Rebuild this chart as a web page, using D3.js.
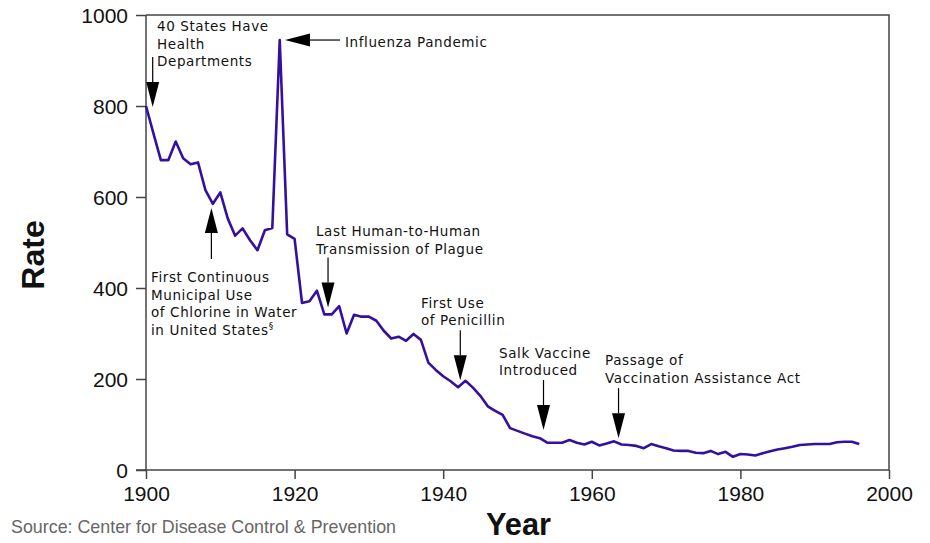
<!DOCTYPE html>
<html>
<head>
<meta charset="utf-8">
<script src="https://cdn.jsdelivr.net/npm/d3@7"></script>
<style>
  body { margin: 0; background: #fff; }
  svg { display: block; font-family: "Liberation Sans", Arial, sans-serif; }
  .tick text { font-size: 21px; fill: #111; }
  .note { font-family: "DejaVu Sans", sans-serif; font-size: 13.5px; letter-spacing: 0.6px; fill: #111; }
</style>
</head>
<body>
<div id="chart"></div>
<script>
// crude death rate, infectious diseases, per 100,000
var years = d3.range(1900, 1997)
var rates = [
  800, 740, 681, 681, 722, 685, 672, 676, 615, 585,
  610, 553, 515, 531, 505, 483, 527, 532, 945, 518,
  508, 367, 371, 394, 342, 342, 360, 300, 341, 337,
  337, 328, 306, 289, 293, 284, 299, 286, 236, 220,
  206, 195, 182, 196, 181, 163, 140, 130, 121, 92,
  86, 80, 74, 70, 60, 60, 60, 66, 60, 56,
  62, 54, 58, 63, 56, 55, 53, 48, 57, 52,
  48, 43, 42, 42, 38, 37, 42, 35, 40, 29,
  35, 34, 32, 37, 41, 45, 48, 51, 55, 56,
  57, 57, 57, 61, 62, 62, 57
]
var xTicks = [1900, 1920, 1940, 1960, 1980, 2000]
var yTicks = [0, 200, 400, 600, 800, 1000]

// annotations: arrow tip in data units, tail length in px, direction
var notes = [
  {lines: ['40 States Have', 'Health', 'Departments'], tx: 157, ty: 31, year: 1900.9, rate: 798, dir: 'down', len: 50},
  {lines: ['Influenza Pandemic'], tx: 345, ty: 47, year: 1918.7, rate: 945, dir: 'left', len: 55},
  {lines: ['First Continuous', 'Municipal Use', 'of Chlorine in Water', 'in United States'], sup: '§', tx: 151, ty: 282, year: 1908.8, rate: 576, dir: 'up', len: 51},
  {lines: ['Last Human-to-Human', 'Transmission of Plague'], tx: 316, ty: 236, year: 1924.5, rate: 357, dir: 'down', len: 50},
  {lines: ['First Use', 'of Penicillin'], tx: 421, ty: 307.5, year: 1942.3, rate: 197, dir: 'down', len: 50},
  {lines: ['Salk Vaccine', 'Introduced'], tx: 499, ty: 357.5, year: 1953.5, rate: 88, dir: 'down', len: 50},
  {lines: ['Passage of', 'Vaccination Assistance Act'], tx: 605, ty: 365, year: 1963.6, rate: 70, dir: 'down', len: 50}
]

var data = years.map(function(d, i){ return {year: d, rate: rates[i]} })

var width = 930, height = 543
var svg = d3.select('#chart').append('svg').attr('width', width).attr('height', height)

var x = d3.scaleLinear().domain([1900, 2000]).range([146, 889])
var y = d3.scaleLinear().domain([0, 1000]).range([470, 15])

// frame
svg.append('path')
  .attr('d', 'M' + x(1900) + ',' + y(1000) + 'H' + x(2000) + 'V' + y(0))
  .attr('fill', 'none').attr('stroke', '#444').attr('stroke-width', 1.5)

var xAxis = svg.append('g').attr('transform', 'translate(0,' + y(0) + ')')
  .call(d3.axisBottom(x).tickValues(xTicks).tickFormat(d3.format('d')).tickSize(9).tickPadding(7))
var yAxis = svg.append('g').attr('transform', 'translate(' + x(1900) + ',0)')
  .call(d3.axisLeft(y).tickValues(yTicks).tickFormat(d3.format('d')).tickSize(10).tickPadding(8))

svg.selectAll('.domain, .tick line').attr('stroke', '#444').attr('stroke-width', 1.5)
xAxis.select('.domain').attr('d', 'M' + (x(1900) - 10) + ',0H' + x(2000))
yAxis.select('.domain').attr('d', 'M0,' + y(0) + 'V' + y(1000))
yAxis.selectAll('.tick text').attr('dy', '0.36em')

// line
var line = d3.line().x(function(d){ return x(d.year) }).y(function(d){ return y(d.rate) })
svg.append('path').datum(data)
  .attr('d', line)
  .attr('fill', 'none')
  .attr('stroke', '#3410a0')
  .attr('stroke-width', 2.6)
  .attr('stroke-linejoin', 'round')

// annotations
var headLen = 25, headW = 6.5
notes.forEach(function(n){
  var px = x(n.year), py = y(n.rate)
  var g = svg.append('g')
  var tri
  if (n.dir == 'down') {
    g.append('line').attr('x1', px).attr('x2', px).attr('y1', py - n.len).attr('y2', py - headLen)
    tri = [[px - headW, py - headLen], [px + headW, py - headLen], [px, py]]
  } else if (n.dir == 'up') {
    g.append('line').attr('x1', px).attr('x2', px).attr('y1', py + n.len).attr('y2', py + headLen)
    tri = [[px - headW, py + headLen], [px + headW, py + headLen], [px, py]]
  } else {
    g.append('line').attr('x1', px + n.len).attr('x2', px + headLen).attr('y1', py).attr('y2', py)
    tri = [[px + headLen, py - headW], [px + headLen, py + headW], [px, py]]
  }
  g.select('line').attr('stroke', '#000').attr('stroke-width', 1.2)
  g.append('path').attr('d', 'M' + tri.join('L') + 'Z').attr('fill', '#000')

  var t = svg.append('text').attr('class', 'note').attr('x', n.tx).attr('y', n.ty)
  n.lines.forEach(function(s, i){
    t.append('tspan').attr('x', n.tx).attr('y', n.ty + i * 17.6).text(s)
  })
  if (n.sup) t.select('tspan:last-child').append('tspan').attr('dy', -6).attr('font-size', '9px').text(n.sup)
})

// labels
svg.append('text').attr('transform', 'translate(44,255) rotate(-90)')
  .attr('text-anchor', 'middle').attr('font-size', '32px').attr('font-weight', 'bold').attr('fill', '#111')
  .text('Rate')
svg.append('text').attr('x', 486).attr('y', 535)
  .attr('font-size', '31px').attr('font-weight', 'bold').attr('fill', '#111')
  .attr('textLength', 65).attr('lengthAdjust', 'spacingAndGlyphs')
  .text('Year')
svg.append('text').attr('x', 11).attr('y', 533)
  .attr('font-size', '19px').attr('fill', '#666')
  .attr('textLength', 385).attr('lengthAdjust', 'spacingAndGlyphs')
  .text('Source: Center for Disease Control & Prevention')
</script>
</body>
</html>
